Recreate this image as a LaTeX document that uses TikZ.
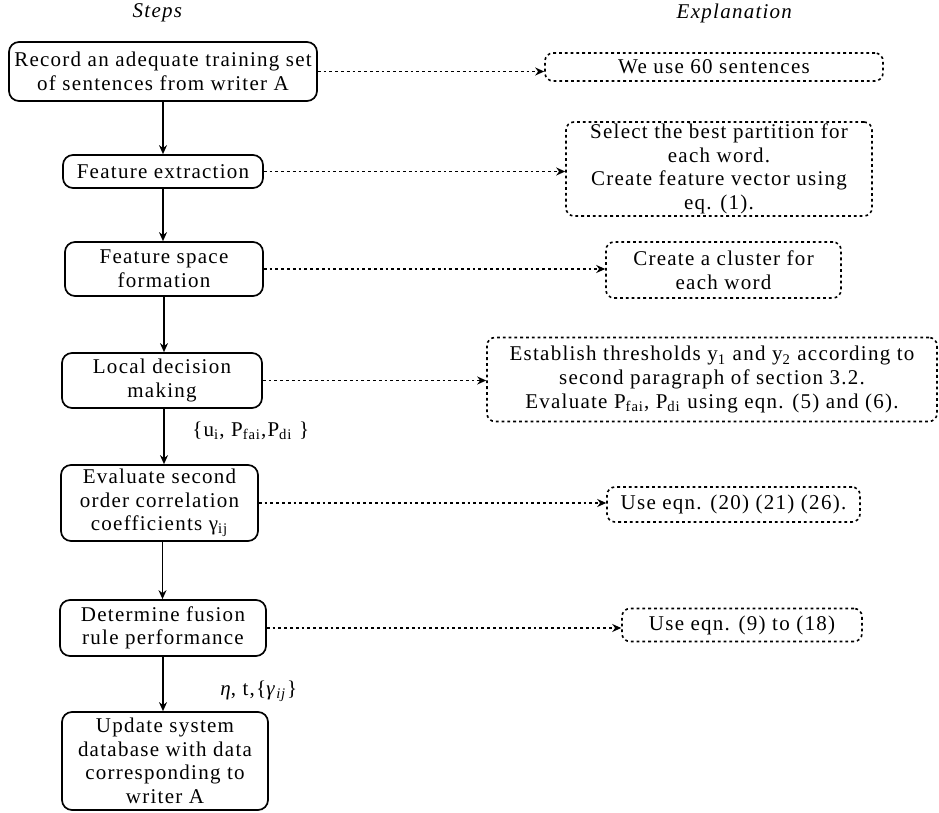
\documentclass[tikz,border=0pt]{standalone}
\usepackage{fontspec}
\setmainfont{Liberation Serif}[LetterSpace=6]
\usetikzlibrary{arrows.meta}

\begin{document}
\begin{tikzpicture}[x=0.5pt,y=-0.5pt,
    every node/.style={font=\fontsize{10.5}{11.8}\selectfont, align=center, inner sep=0pt},
    stepbox/.style={draw, line width=0.85pt, rounded corners=5pt},
    notebox/.style={draw, line width=0.8pt, dash pattern=on 1.4pt off 1.5pt, rounded corners=4pt},
    flow/.style={-{Stealth[length=4.5pt,width=4pt]}, line width=0.8pt},
    link/.style={-{Stealth[length=4.5pt,width=4pt]}, line width=0.75pt, dash pattern=on 1.4pt off 1.5pt}]
    \useasboundingbox (0,0) rectangle (939,813);
    % Judul kolom
    \node (hsteps) at (158,13) {\textit{Steps}};
    \node (hexpl) at (735,13) {\textit{Explanation}};
    % Langkah
    \node[stepbox, minimum width=154pt, minimum height=29.5pt] (rec) at (163,71.5) {Record an adequate training set\\of sentences from writer A};
    \node[stepbox, minimum width=100pt, minimum height=16.5pt] (feat) at (163,171.5) {Feature extraction};
    \node[stepbox, minimum width=99pt, minimum height=27pt] (space) at (164,269) {Feature space\\formation};
    \node[stepbox, minimum width=100pt, minimum height=27.5pt] (local) at (162,380.5) {Local decision\\making};
    \node[stepbox, minimum width=98.5pt, minimum height=38pt] (corr) at (159.5,503) {Evaluate second\\order correlation\\coefficients γ\textsubscript{ij}};
    \node[stepbox, minimum width=103pt, minimum height=28pt] (fusion) at (163,628) {Determine fusion\\rule performance};
    \node[stepbox, minimum width=103pt, minimum height=49pt] (update) at (165,761) {Update system\\database with data\\corresponding to\\writer A};
    % Penjelasan
    \node[notebox, minimum width=169pt, minimum height=14pt] (n60) at (714,67) {We use 60 sentences};
    \node[notebox, minimum width=153pt, minimum height=47pt] (npart) at (719,169) {Select the best partition for\\each word.\\Create feature vector using\\eq. (1).};
    \node[notebox, minimum width=117.5pt, minimum height=28pt] (nclust) at (723.5,270) {Create a cluster for\\each word};
    \node[notebox, minimum width=225pt, minimum height=42pt] (nthr) at (712,379.5) {Establish thresholds y\textsubscript{1} and y\textsubscript{2} according to\\second paragraph of section 3.2.\\Evaluate P\textsubscript{fai}, P\textsubscript{di} using eqn. (5) and (6).};
    \node[notebox, minimum width=126.5pt, minimum height=17.5pt] (ncorr) at (733.5,504.5) {Use eqn. (20) (21) (26).};
    \node[notebox, minimum width=120pt, minimum height=16.5pt] (nfus) at (742,625) {Use eqn. (9) to (18)};
    % Label panah
    \node[anchor=west] (lbl1) at (192,431) {\{u\textsubscript{i}, P\textsubscript{fai},P\textsubscript{di} \}};
    \node[anchor=west] (lbl2) at (220,691) {\textit{η}, t,\{\textit{γ}\textsubscript{\textit{ij}}\}};
    % Panah langkah
    \draw[flow] (rec.south) -- (rec.south |- feat.north);
    \draw[flow] (feat.south) -- (feat.south |- space.north);
    \draw[flow] (space.south) -- (space.south |- local.north);
    \draw[flow] ([xshift=1pt]local.south) -- ([xshift=1pt]local.south |- corr.north);
    \draw[flow] ([xshift=1.5pt]corr.south) -- ([xshift=1.5pt]corr.south |- fusion.north);
    \draw[flow] (fusion.south) -- (fusion.south |- update.north);
    % Panah penjelasan
    \draw[link] (rec.east) -- (rec.east -| n60.west);
    \draw[link] (feat.east) -- (feat.east -| npart.west);
    \draw[link] (space.east) -- (space.east -| nclust.west);
    \draw[link] (local.east) -- (local.east -| nthr.west);
    \draw[link] (corr.east) -- (corr.east -| ncorr.west);
    \draw[link] (fusion.east) -- (fusion.east -| nfus.west);
\end{tikzpicture}
\end{document}
